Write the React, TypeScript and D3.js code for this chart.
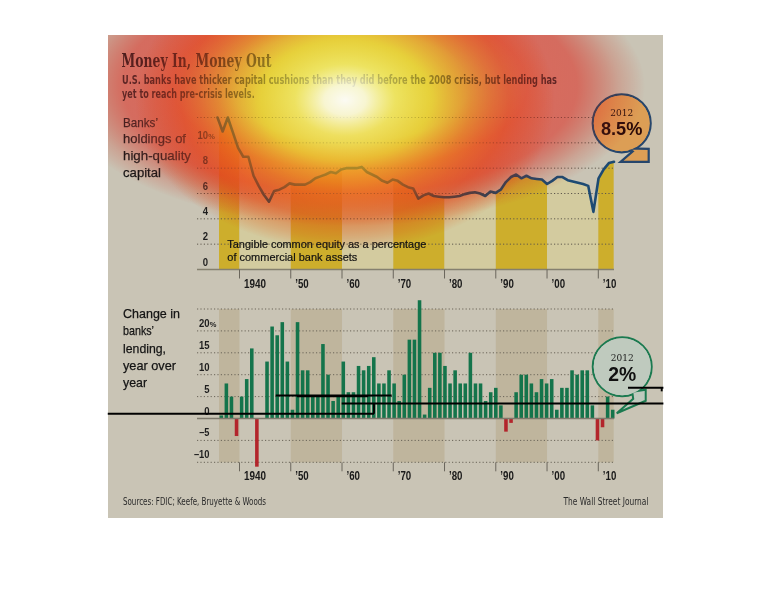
import React from 'react';
import * as d3 from 'd3';

// ---------------- data ----------------
const capitalYears = d3.range(1935, 2013);
const capitalValues = [
  12.0, 10.9, 12.0, 10.8, 9.6, 8.9, 8.9, 7.4, 6.6, 5.9,
  5.35, 6.2, 6.3, 6.5, 6.8, 6.7, 6.7, 6.7, 6.9, 7.2,
  7.35, 7.5, 7.7, 7.6, 7.9, 8.0, 8.0, 8.0, 8.1, 7.7,
  7.5, 7.3, 7.0, 6.85, 7.1, 7.0, 6.7, 6.5, 6.4, 5.6,
  5.85, 6.0, 5.8, 5.75, 5.7, 5.7, 5.75, 5.8, 5.95, 6.05,
  6.1, 6.0, 5.8, 6.15, 6.05, 6.3, 6.9, 7.3, 7.5, 7.2,
  7.4, 7.2, 7.15, 7.1, 6.75, 7.0, 7.3, 7.3, 7.05, 6.95,
  6.85, 6.75, 6.6, 4.55, 7.2, 7.9, 8.4, 8.5,
];
const lendingYears = d3.range(1935, 2013);
const lendingValues = [
  0.7, 8, 5, -4, 5, 9, 16, -11, 0, 13,
  21, 19, 22, 13, 2, 22, 11, 11, 5, 5,
  17, 10, 4, 5, 13, 6, 6, 12, 11, 12,
  14, 8, 8, 11, 8, 4, 10, 18, 18, 27,
  0.9, 7, 15, 15, 12, 8, 11, 8, 8, 15,
  8, 8, 4, 6, 7, 3, -3, -1, 6, 10,
  10, 8, 6, 9, 8, 9, 2, 7, 7, 11,
  10, 11, 11, 3, -5, -2, 5, 2,
];
const decadeEdges = [1936, 1940, 1950, 1960, 1970, 1980, 1990, 2000, 2010, 2013];
const tickYears = [1940, 1950, 1960, 1970, 1980, 1990, 2000, 2010];
const tickLabels = ['1940', '\u201950', '\u201960', '\u201970', '\u201980', '\u201990', '\u201900', '\u201910'];
const topTickValues = [0, 2, 4, 6, 8, 10];
const topGridValues = [2, 4, 6, 8, 10, 12];
const bottomTickValues = [-10, -5, 0, 5, 10, 15, 20];
const bottomGridValues = [-10, -5, 5, 10, 15, 20, 25];
const topLabelLines = ['Banks\u2019', 'holdings of', 'high-quality', 'capital'];
const topLabelWidths = [35, 63, 68, 38];
const bottomLabelLines = ['Change in', 'banks\u2019', 'lending,', 'year over', 'year'];
const bottomLabelWidths = [57, 31, 43, 53, 24];
// stray annotation strokes, in (year, lending %) units
const strayLines = [
  [1914.3, 1.1, 1966.24, 1.1],
  [1966.24, 1.1, 1966.24, 3.45],
  [1947.06, 5.25, 1969.69, 5.25],
  [1951.2, 5.05, 1965.1, 5.05],
  [1959.94, 3.42, 2022.7, 3.42],
  [2015.79, 7.03, 2022.7, 7.03],
  [2022.37, 7.03, 2022.37, 6.2],
];

// ---------------- scales ----------------
const xAxis = d3.scaleLinear().domain([1940, 2010]).range([239.5, 598.3]);
const xLine = d3.scaleLinear().domain([1935, 2012]).range([217.5, 614]);
const xBar = d3.scaleBand<number>().domain(lendingYears).range([219, 615]).paddingInner(0.3).paddingOuter(0.1);
const yTop = d3.scaleLinear().domain([0, 12]).range([269.5, 117.5]);
const yBot = d3.scaleLinear().domain([-10, 25]).range([462.3, 309]);

const SANS = "'Liberation Sans Narrow', 'DejaVu Sans Condensed', 'Liberation Sans', Arial, sans-serif";
const SANSW = "'Liberation Sans', Arial, sans-serif";
const SERIF = "'DejaVu Serif Condensed', 'Liberation Serif', serif";

const GRID_X0 = 197;
const GRID_X1 = 614;

const numLabel = (v: number) => (v < 0 ? '\u2013' + Math.abs(v) : String(v));
const numWidth = (v: number) => String(Math.abs(v)).length * 5.3 + (v < 0 ? 5 : 0);
const yearWidth = (i: number) => (i === 0 ? 22 : 13.5);

// heat overlay gradients: [offset, colour, opacity]
const mainMul: [number, string][] = [
  [0, '#ffff80'], [0.42, '#fff85a'], [0.6, '#ffc060'], [0.78, '#ffb080'], [0.92, '#ffe0cc'], [1, '#ffffff'],
];
const mainNorm: [number, string, number][] = [
  [0, '#ffffff', 0.93], [0.1, '#ffffe6', 0.86], [0.24, '#fffa6e', 0.66], [0.4, '#fff23c', 0.52],
  [0.55, '#ffc032', 0.42], [0.7, '#ff8c3c', 0.3], [0.85, '#ff7850', 0.14], [1, '#ff7850', 0],
];
const haloMul: [number, string][] = [
  [0, '#ffffff'], [0.4, '#ffece6'], [0.6, '#ff9a8c'], [0.77, '#ff9688'], [0.91, '#ffdcd6'], [1, '#ffffff'],
];
const haloNorm: [number, string, number][] = [
  [0, '#fa5050', 0], [0.4, '#fa5050', 0.1], [0.6, '#fa5050', 0.3], [0.77, '#f05a5a', 0.3], [0.91, '#e06464', 0.08], [1, '#e06464', 0],
];

export default function App() {
  const linePath = d3.line<number>()
    .x((_, i) => xLine(capitalYears[i]))
    .y((d) => yTop(d))(capitalValues) || '';
  const areaPath = d3.area<number>()
    .x((_, i) => xLine(capitalYears[i]))
    .y0(yTop(0))
    .y1((d) => yTop(d))(capitalValues) || '';

  const bands = decadeEdges.slice(0, -1).map((s, i) => ({ s, e: decadeEdges[i + 1], dark: i % 2 === 0 }));

  const topA = { x: xLine(2012), y: yTop(8.5) };
  const botA = { x: (xBar(2012) || 0) + xBar.bandwidth() / 2, y: yBot(2) };
  const tc = { cx: topA.x + 7.7, cy: topA.y - 38.5, r: 29 };
  const bc = { cx: botA.x + 9.5, cy: botA.y - 43, r: 29.5 };
  const topTail = [
    [tc.cx + 6, tc.cy + 25], [tc.cx + 27, tc.cy + 25.5], [tc.cx + 27, topA.y], [topA.x + 6.5, topA.y], [tc.cx + 11, tc.cy + 28],
  ];
  const botTail = [
    [bc.cx + 10, bc.cy + 25], [bc.cx + 23.5, bc.cy + 23], [bc.cx + 23.5, bc.cy + 34], [botA.x + 4, botA.y + 3.5], [bc.cx + 11, bc.cy + 32],
  ];
  const poly = (pts: number[][]) => 'M' + pts.map((p) => p.join(',')).join('L') + 'Z';

  const mainE = { cx: 345, cy: 100, rx: 210, ry: 150 };
  const haloE = { cx: 350, cy: 86, rx: 295, ry: 140 };

  return (
    <svg width={770} height={612} style={{ position: 'absolute', left: 0, top: 0, background: '#fff' }}>
      <defs>
        <clipPath id="panelClip"><rect x={108} y={35} width={555} height={483} /></clipPath>
        {bands.map((b, i) => (
          <clipPath id={`band${i}`} key={i}>
            <rect x={xAxis(b.s)} y={100} width={xAxis(b.e) - xAxis(b.s)} height={180} />
          </clipPath>
        ))}
        <radialGradient id="mainMul">
          {mainMul.map(([o, c]) => <stop key={o} offset={o} stopColor={c} />)}
        </radialGradient>
        <radialGradient id="mainNorm">
          {mainNorm.map(([o, c, a]) => <stop key={o} offset={o} stopColor={c} stopOpacity={a} />)}
        </radialGradient>
        <radialGradient id="haloMul">
          {haloMul.map(([o, c]) => <stop key={o} offset={o} stopColor={c} />)}
        </radialGradient>
        <radialGradient id="haloNorm">
          {haloNorm.map(([o, c, a]) => <stop key={o} offset={o} stopColor={c} stopOpacity={a} />)}
        </radialGradient>
      </defs>

      <rect x={108} y={35} width={555} height={483} fill="#c9c4b5" />

      {/* ---------- top chart ---------- */}
      {bands.map((b, i) => (
        <path key={i} d={areaPath} fill={b.dark ? '#cdae2c' : '#d3cb9f'} clipPath={`url(#band${i})`} />
      ))}
      {topGridValues.map((v) => (
        <line key={v} x1={GRID_X0} x2={GRID_X1} y1={yTop(v)} y2={yTop(v)} stroke="#5f584c" strokeWidth={1} strokeDasharray="1.2 2.2" />
      ))}
      <line x1={GRID_X0} x2={GRID_X1} y1={yTop(0)} y2={yTop(0)} stroke="#85806f" strokeWidth={1.3} />
      {topTickValues.map((v) => (
        <g key={v}>
          <text x={208} y={yTop(v) - 4} textAnchor="end" fontFamily={SANSW} fontSize={11} fontWeight={700} fill="#1e1e1e" textLength={numWidth(v)} lengthAdjust="spacingAndGlyphs">{numLabel(v)}</text>
          {v === 10 && <text x={208.3} y={yTop(v) - 4} fontFamily={SANSW} fontSize={7.5} fontWeight={700} fill="#1e1e1e">%</text>}
        </g>
      ))}
      {tickYears.map((y, i) => (
        <g key={y}>
          <line x1={xAxis(y)} x2={xAxis(y)} y1={yTop(0)} y2={yTop(0) + 9} stroke="#6a665c" strokeWidth={1} />
          <text x={xAxis(y) + 4.5} y={288} fontFamily={SANSW} fontSize={12} fontWeight={700} fill="#1a1a1a" textLength={yearWidth(i)} lengthAdjust="spacingAndGlyphs">{tickLabels[i]}</text>
        </g>
      ))}
      <path d={linePath} fill="none" stroke="#1d4a73" strokeWidth={2.6} strokeLinejoin="round" strokeLinecap="round" />
      <text x={227.3} y={248} fontFamily={SANSW} fontSize={11.5} fill="#111" stroke="#111" strokeWidth={0.2} textLength={199} lengthAdjust="spacingAndGlyphs">Tangible common equity as a percentage</text>
      <text x={227.3} y={261} fontFamily={SANSW} fontSize={11.5} fill="#111" stroke="#111" strokeWidth={0.2} textLength={130} lengthAdjust="spacingAndGlyphs">of commercial bank assets</text>
      {topLabelLines.map((t, i) => (
        <text key={t} x={123} y={126.5 + i * 16.7} fontFamily={SANSW} fontSize={13.5} fill="#141414" stroke="#141414" strokeWidth={0.25} textLength={topLabelWidths[i]} lengthAdjust="spacingAndGlyphs">{t}</text>
      ))}

      {/* top callout */}
      <circle cx={tc.cx} cy={tc.cy} r={tc.r} fill="#dc9e55" stroke="#26466c" strokeWidth={2.2} />
      <path d={poly(topTail)} fill="#dc9e55" stroke="#26466c" strokeWidth={2.2} strokeLinejoin="miter" />
      <circle cx={tc.cx} cy={tc.cy} r={tc.r - 1.1} fill="#dc9e55" />
      <text x={tc.cx} y={tc.cy - 7} textAnchor="middle" fontFamily={SERIF} fontSize={10} fill="#2a0e0a">2012</text>
      <text x={tc.cx} y={tc.cy + 12} textAnchor="middle" fontFamily={SANSW} fontSize={19} fontWeight={700} fill="#2a0a08" textLength={41.5} lengthAdjust="spacingAndGlyphs">8.5%</text>

      {/* ---------- bottom chart ---------- */}
      {bands.filter((b) => b.dark).map((b, i) => (
        <rect key={i} x={xAxis(b.s)} y={yBot(25)} width={xAxis(b.e) - xAxis(b.s)} height={yBot(-10) - yBot(25)} fill="#bfb59d" />
      ))}
      {bottomGridValues.map((v) => (
        <line key={v} x1={GRID_X0} x2={GRID_X1} y1={yBot(v)} y2={yBot(v)} stroke="#6a6458" strokeWidth={1} strokeDasharray="1.2 2.2" />
      ))}
      {lendingValues.map((v, i) => (
        <rect key={i} x={xBar(lendingYears[i])} width={xBar.bandwidth()}
          y={v >= 0 ? yBot(v) : yBot(0)} height={Math.abs(yBot(v) - yBot(0))}
          fill={v >= 0 ? '#14744b' : '#b3252b'} />
      ))}
      <line x1={GRID_X0} x2={GRID_X1} y1={yBot(0)} y2={yBot(0)} stroke="#7d786b" strokeWidth={1.5} />
      {bottomTickValues.map((v) => (
        <g key={v}>
          <text x={209.5} y={yBot(v) - 4} textAnchor="end" fontFamily={SANSW} fontSize={11} fontWeight={700} fill="#1e1e1e" textLength={numWidth(v)} lengthAdjust="spacingAndGlyphs">{numLabel(v)}</text>
          {v === 20 && <text x={209.8} y={yBot(v) - 4} fontFamily={SANSW} fontSize={7.5} fontWeight={700} fill="#1e1e1e">%</text>}
        </g>
      ))}
      {tickYears.map((y, i) => (
        <g key={y}>
          <line x1={xAxis(y)} x2={xAxis(y)} y1={yBot(-10)} y2={yBot(-10) + 9} stroke="#6a665c" strokeWidth={1} />
          <text x={xAxis(y) + 4.5} y={480} fontFamily={SANSW} fontSize={12} fontWeight={700} fill="#1a1a1a" textLength={yearWidth(i)} lengthAdjust="spacingAndGlyphs">{tickLabels[i]}</text>
        </g>
      ))}
      {bottomLabelLines.map((t, i) => (
        <text key={t} x={123} y={318 + i * 17.3} fontFamily={SANSW} fontSize={13.5} fill="#141414" stroke="#141414" strokeWidth={0.25} textLength={bottomLabelWidths[i]} lengthAdjust="spacingAndGlyphs">{t}</text>
      ))}

      {/* bottom callout */}
      <circle cx={bc.cx} cy={bc.cy} r={bc.r} fill="#bfcabe" stroke="#1b7a50" strokeWidth={2} />
      <path d={poly(botTail)} fill="#bfcabe" stroke="#1b7a50" strokeWidth={2} />
      <circle cx={bc.cx} cy={bc.cy} r={bc.r - 1} fill="#bfcabe" />
      <text x={bc.cx} y={bc.cy - 5.5} textAnchor="middle" fontFamily={SERIF} fontSize={10} fill="#1a1a1a">2012</text>
      <text x={bc.cx} y={bc.cy + 14} textAnchor="middle" fontFamily={SANSW} fontSize={21} fontWeight={700} fill="#111" textLength={28} lengthAdjust="spacingAndGlyphs">2%</text>

      {/* stray strokes */}
      {strayLines.map((s, i) => (
        <line key={i} x1={xAxis(s[0])} y1={yBot(s[1])} x2={xAxis(s[2])} y2={yBot(s[3])} stroke="#000" strokeWidth={1.9} />
      ))}

      {/* header & footer */}
      <text x={121.5} y={66.5} fontFamily={SERIF} fontSize={18.5} fontWeight={700} fill="#140a08" textLength={150} lengthAdjust="spacingAndGlyphs">Money In, Money Out</text>
      <text x={122} y={83.5} fontFamily={SANS} fontSize={12.2} fontWeight={700} fill="#1e1818" textLength={435} lengthAdjust="spacingAndGlyphs">U.S. banks have thicker capital cushions than they did before the 2008 crisis, but lending has</text>
      <text x={122} y={97.8} fontFamily={SANS} fontSize={12.2} fontWeight={700} fill="#1e1818" textLength={132.7} lengthAdjust="spacingAndGlyphs">yet to reach pre-crisis levels.</text>
      <text x={123} y={504.5} fontFamily={SANS} fontSize={10} fill="#2a2a2a" textLength={143} lengthAdjust="spacingAndGlyphs">Sources: FDIC; Keefe, Bruyette &amp; Woods</text>
      <text x={648.5} y={504.5} textAnchor="end" fontFamily={SANS} fontSize={10} fill="#2a2a2a" textLength={85} lengthAdjust="spacingAndGlyphs">The Wall Street Journal</text>

      {/* heat overlay: multiply tint + normal glow, each clipped to the panel */}
      <ellipse cx={haloE.cx} cy={haloE.cy} rx={haloE.rx} ry={haloE.ry} fill="url(#haloMul)" clipPath="url(#panelClip)" style={{ mixBlendMode: 'multiply' }} />
      <ellipse cx={haloE.cx} cy={haloE.cy} rx={haloE.rx} ry={haloE.ry} fill="url(#haloNorm)" clipPath="url(#panelClip)" />
      <ellipse cx={mainE.cx} cy={mainE.cy} rx={mainE.rx} ry={mainE.ry} fill="url(#mainMul)" clipPath="url(#panelClip)" style={{ mixBlendMode: 'multiply' }} />
      <ellipse cx={mainE.cx} cy={mainE.cy} rx={mainE.rx} ry={mainE.ry} fill="url(#mainNorm)" clipPath="url(#panelClip)" />
    </svg>
  );
}
